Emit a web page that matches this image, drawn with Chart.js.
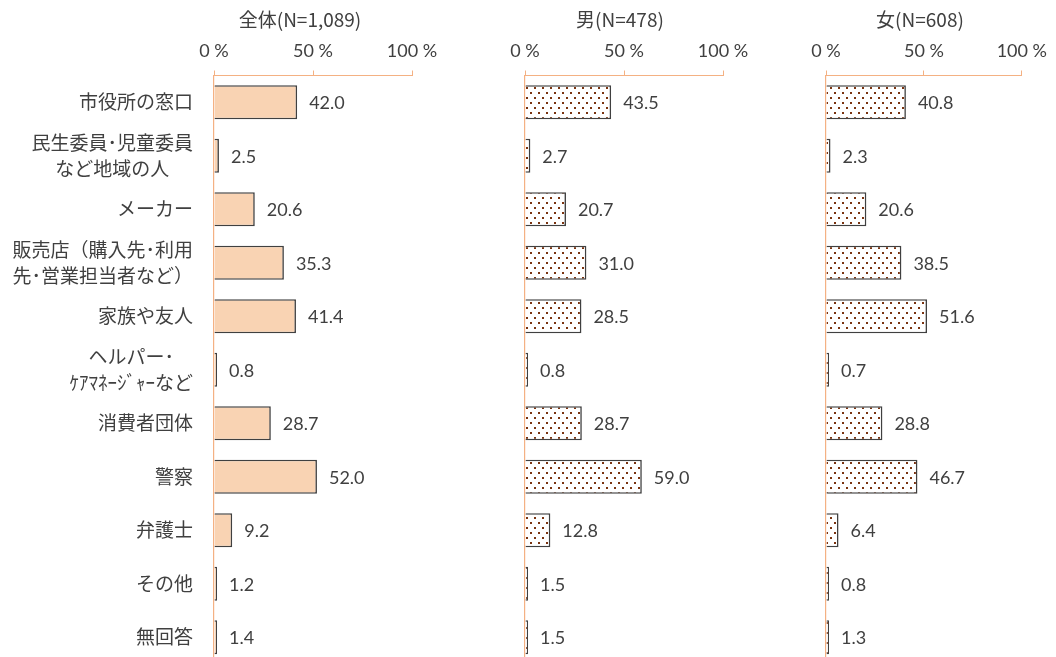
<!DOCTYPE html>
<html lang="ja">
<head>
<meta charset="utf-8">
<title>相談先</title>
<script src="https://cdn.jsdelivr.net/npm/chart.js@4/dist/chart.umd.min.js"></script>
<style>
    html, body { margin: 0; padding: 0; background: #ffffff; overflow: hidden; }
    #wrap { position: relative; width: 1056px; height: 670px; }
    #wrap canvas { position: absolute; left: 0; top: 0; }
</style>
</head>
<body>
<div id="wrap">
    <canvas id="chartAll" width="1056" height="670"></canvas>
    <canvas id="chartMale" width="1056" height="670"></canvas>
    <canvas id="chartFemale" width="1056" height="670"></canvas>
</div>
<script>
const categories = [
    ["市役所の窓口"],
    ["民生委員･児童委員", "など地域の人"],
    ["メーカー"],
    ["販売店（購入先･利用", "先･営業担当者など）"],
    ["家族や友人"],
    ["ヘルパー･", "ｹｱﾏﾈｰｼﾞｬｰなど"],
    ["消費者団体"],
    ["警察"],
    ["弁護士"],
    ["その他"],
    ["無回答"]
];

const allValues = [42.0, 2.5, 20.6, 35.3, 41.4, 0.8, 28.7, 52.0, 9.2, 1.2, 1.4];
const maleValues = [43.5, 2.7, 20.7, 31.0, 28.5, 0.8, 28.7, 59.0, 12.8, 1.5, 1.5];
const femaleValues = [40.8, 2.3, 20.6, 38.5, 51.6, 0.7, 28.8, 46.7, 6.4, 0.8, 1.3];

const xTickLabels = ["0 %", "50 %", "100 %"];

const TEXT_COLOR = "#404040";
const AXIS_COLOR = "#F4B183";
const CJK_FONT = '"Noto Sans CJK JP", "Noto Sans", sans-serif';
const NUM_FONT = 'Lato, "Noto Sans", sans-serif';

// white tile with staggered brown dots
function makeDotPattern() {
    const tile = document.createElement("canvas");
    tile.width = 8;
    tile.height = 10;
    const c = tile.getContext("2d");
    c.fillStyle = "#ffffff";
    c.fillRect(0, 0, 8, 10);
    c.fillStyle = "#7A3310";
    c.fillRect(2, 2, 2, 2);
    c.fillRect(6, 7, 2, 2);
    return c.createPattern(tile, "repeat");
}

// titles, value labels and (first panel only) category labels
const panelText = {
    id: "panelText",
    afterDatasetsDraw(chart, args, opts) {
        const ctx = chart.ctx;
        const area = chart.chartArea;
        ctx.save();
        ctx.fillStyle = TEXT_COLOR;

        ctx.font = "19px " + CJK_FONT;
        ctx.textAlign = "center";
        ctx.textBaseline = "middle";
        ctx.fillText(opts.title, area.left + opts.titleOffset, 20);

        const values = chart.data.datasets[0].data;
        ctx.font = "18px " + NUM_FONT;
        ctx.textAlign = "left";
        chart.getDatasetMeta(0).data.forEach((bar, i) => {
            ctx.fillText(values[i].toFixed(1), bar.x + 12, bar.y + 1);
        });

        if (opts.showCategories) {
            const yScale = chart.scales.y;
            const right = area.left - 21;
            const lineHeight = 26.5;
            ctx.font = "19px " + CJK_FONT;
            ctx.textAlign = "center";
            categories.forEach((lines, i) => {
                const widest = Math.max(...lines.map(l => ctx.measureText(l).width));
                const cx = right - widest / 2;
                const cy = yScale.getPixelForValue(i);
                const top = cy - (lines.length - 1) * lineHeight / 2;
                lines.forEach((line, j) => {
                    ctx.fillText(line, cx, top + j * lineHeight);
                });
            });
        }
        ctx.restore();
    }
};

function buildPanel(canvasId, values, fill, left, title, titleOffset, showCategories) {
    const areaWidth = 198;
    new Chart(document.getElementById(canvasId), {
        type: "bar",
        data: {
            labels: categories.map(c => c.join("")),
            datasets: [{
                data: values,
                backgroundColor: fill,
                borderColor: TEXT_COLOR,
                borderWidth: 1.6,
                minBarLength: 3,
                barPercentage: 0.635,
                categoryPercentage: 1
            }]
        },
        plugins: [panelText],
        options: {
            indexAxis: "y",
            responsive: false,
            animation: false,
            events: [],
            layout: {
                padding: { left: left, right: 1056 - left - areaWidth, top: 0, bottom: 6 }
            },
            plugins: {
                legend: { display: false },
                tooltip: { enabled: false },
                panelText: { title: title, titleOffset: titleOffset, showCategories: showCategories }
            },
            scales: {
                x: {
                    position: "top",
                    min: 0,
                    max: 100,
                    afterFit: scale => { scale.height = 75.5; },
                    ticks: {
                        stepSize: 50,
                        padding: 9,
                        color: TEXT_COLOR,
                        font: { size: 18, family: NUM_FONT },
                        callback: (v, i) => xTickLabels[i]
                    },
                    grid: {
                        color: AXIS_COLOR,
                        drawOnChartArea: false,
                        drawTicks: true,
                        tickLength: 5
                    },
                    border: { display: true, color: AXIS_COLOR, width: 1 }
                },
                y: {
                    afterFit: scale => { scale.width = 0; },
                    ticks: { display: false },
                    grid: { display: false },
                    border: { display: true, color: AXIS_COLOR, width: 1.2 }
                }
            }
        }
    });
}

const dots = makeDotPattern();
buildPanel("chartAll", allValues, "#F9D3B3", 214, "全体(N=1,089)", 86, true);
buildPanel("chartMale", maleValues, dots, 525, "男(N=478)", 95, false);
buildPanel("chartFemale", femaleValues, dots, 826, "女(N=608)", 94, false);
</script>
</body>
</html>
